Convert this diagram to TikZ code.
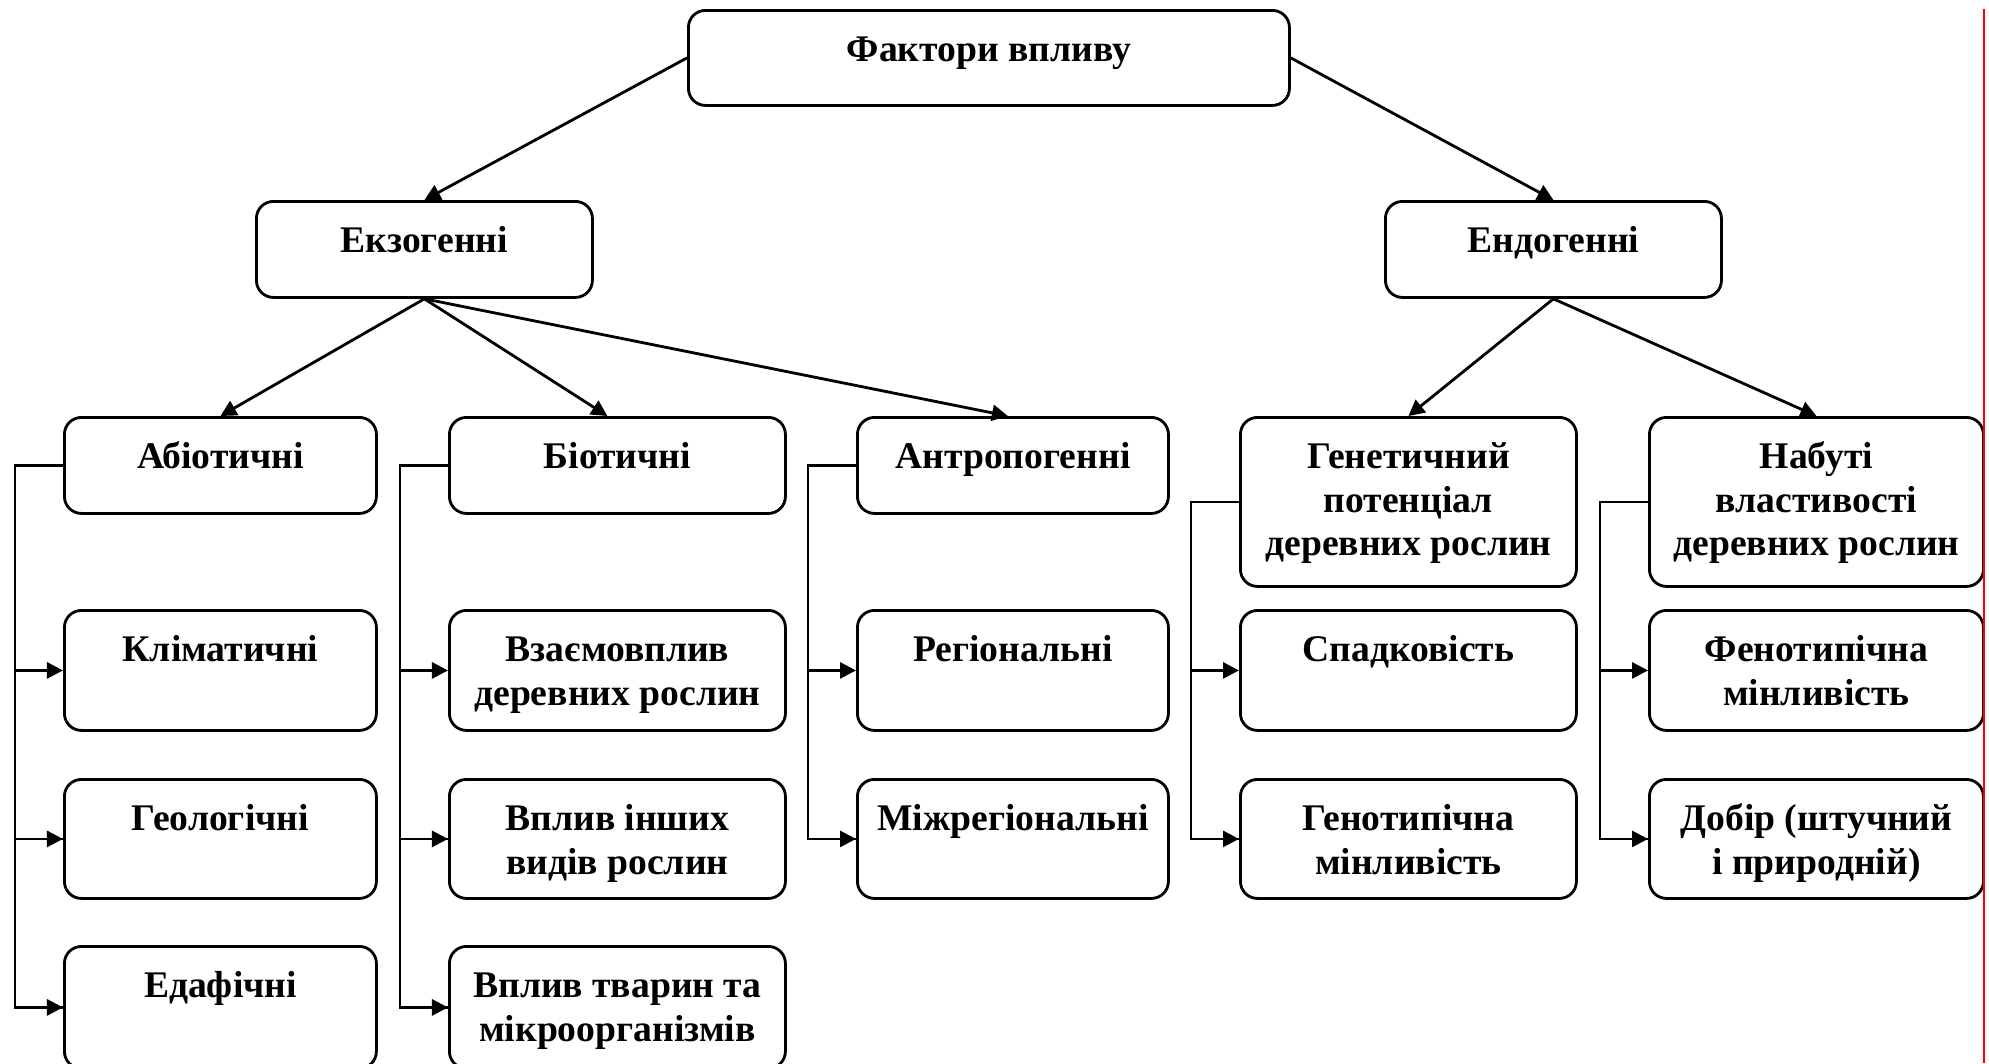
\documentclass[tikz,border=0pt]{standalone}
\usepackage{fontspec}
\setmainfont{Liberation Serif}
\usetikzlibrary{arrows.meta,calc}
\newdimen\pxu \pxu=0.01cm
\tikzset{
  bx/.style={draw, line width=0.8pt, rounded corners=0.17cm, inner sep=0pt,
    font=\bfseries\fontsize{10.7pt}{12.5pt}\selectfont},
  arr/.style={line width=0.8pt, -{Triangle[length=0.16cm,width=0.16cm]}},
  ln/.style={line width=0.8pt}
}
\newcommand\bxnode[6]{\node[bx, anchor=north west] (#1) at (#2,#3)
  {\parbox[t][#5\pxu][t]{#4\pxu}{\centering\rule{0pt}{14.4pt}#6\par}};}
\begin{document}
\begin{tikzpicture}[x=0.01cm,y=-0.01cm]
\useasboundingbox (0,0) rectangle (1989,1063);
\clip (0,0) rectangle (1989,1063);
% nodes
\bxnode{top}{687}{9}{601}{95}{Фактори впливу}
\bxnode{exo}{255}{200}{336}{96}{Екзогенні}
\bxnode{endo}{1384}{200}{336}{96}{Ендогенні}
\bxnode{abio}{63}{416}{312}{96}{Абіотичні}
\bxnode{bio}{448}{416}{336}{96}{Біотичні}
\bxnode{antr}{856}{416}{311}{96}{Антропогенні}
\bxnode{gen}{1239}{416}{336}{169}{Генетичний\\потенціал\\деревних рослин}
\bxnode{nab}{1648}{416}{334}{169}{Набуті\\властивості\\деревних рослин}
\bxnode{klim}{63}{609}{312}{120}{Кліматичні}
\bxnode{vzaem}{448}{609}{336}{120}{Взаємовплив\\деревних рослин}
\bxnode{reg}{856}{609}{311}{120}{Регіональні}
\bxnode{spad}{1239}{609}{336}{120}{Спадковість}
\bxnode{fen}{1648}{609}{334}{120}{Фенотипічна\\мінливість}
\bxnode{geo}{63}{778}{312}{119}{Геологічні}
\bxnode{inshi}{448}{778}{336}{119}{Вплив інших\\видів рослин}
\bxnode{mizh}{856}{778}{311}{119}{Міжрегіональні}
\bxnode{genot}{1239}{778}{336}{119}{Генотипічна\\мінливість}
\bxnode{dobir}{1648}{778}{334}{119}{Добір (штучний\\і природній)}
\bxnode{edaf}{63}{945}{312}{122}{Едафічні}
\bxnode{tvar}{448}{945}{336}{122}{Вплив тварин та\\мікроорганізмів}
% top-level connectors
\draw[arr] (top.west) -- (exo.north);
\draw[arr] (top.east) -- (endo.north);
\draw[arr] (exo.south) -- (abio.north);
\draw[arr] (exo.south) -- ([xshift=-0.1cm]bio.north);
\draw[arr] (exo.south) -- ([xshift=-0.05cm]antr.north);
\draw[arr] (endo.south) -- (gen.north);
\draw[arr] (endo.south) -- (nab.north);
% bus connectors
\foreach \p/\a/\b in {abio/klim/geo, bio/vzaem/inshi, antr/reg/mizh, gen/spad/genot, nab/fen/dobir}{
  \draw[ln] (\p.west) -- ++(-48,0) |- (\b.west);
  \draw[arr] ([xshift=-0.48cm]\p.west |- \a.west) -- (\a.west);
  \draw[arr] ([xshift=-0.48cm]\p.west |- \b.west) -- (\b.west);
}
\draw[ln] (geo.west) ++(-48,0) |- (edaf.west);
\draw[arr] ([xshift=-0.48cm]geo.west |- edaf.west) -- (edaf.west);
\draw[ln] (inshi.west) ++(-48,0) |- (tvar.west);
\draw[arr] ([xshift=-0.48cm]inshi.west |- tvar.west) -- (tvar.west);
% red page edge line
\coordinate (rt) at (1984,9);
\coordinate (rb) at (1984,1063);
\draw[red, line width=0.5pt] (rt) -- (rb);
\end{tikzpicture}
\end{document}
